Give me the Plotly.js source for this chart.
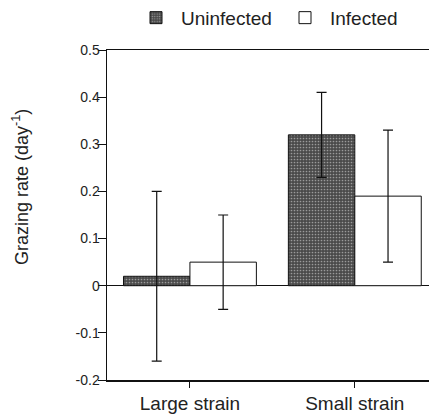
<!DOCTYPE html>
<html>
<head>
<meta charset="utf-8">
<script src="https://cdn.plot.ly/plotly-3.0.1.min.js"></script>
<style>html,body{margin:0;padding:0;background:#fff;}#chart{width:429px;height:414px;}</style>
</head>
<body>
<div id="chart"></div>
<script>
var categories = ["Large strain", "Small strain"];
var seriesNames = ["Uninfected", "Infected"];
var uninfected = [0.02, 0.32];
var uninfectedErr = [0.18, 0.09];
var infected = [0.05, 0.19];
var infectedErr = [0.10, 0.14];
var yTickVals = [-0.2, -0.1, 0, 0.1, 0.2, 0.3, 0.4, 0.5];
var yTickText = ["-0.2", "-0.1", "0", "0.1", "0.2", "0.3", "0.4", "0.5"];
var yTitle = "Grazing rate (day<sup>-1</sup>)";

var font = "'Liberation Sans', Arial, Helvetica, sans-serif";
var ink = "#222";

var traces = [
  {
    type: "bar", name: seriesNames[0], x: categories, y: uninfected,
    marker: {color: "#4a4a4a", line: {color: "#111", width: 1},
      pattern: {shape: ".", fgcolor: "#9a9a9a", bgcolor: "#4a4a4a", size: 3, solidity: 0.25}},
    error_y: {type: "data", array: uninfectedErr, visible: true, color: "#111", thickness: 1.2, width: 5}
  },
  {
    type: "bar", name: seriesNames[1], x: categories, y: infected,
    marker: {color: "#ffffff", line: {color: "#111", width: 1}},
    error_y: {type: "data", array: infectedErr, visible: true, color: "#111", thickness: 1.2, width: 5}
  }
];

var layout = {
  width: 429, height: 414,
  margin: {l: 107, r: 0, t: 50, b: 34},
  paper_bgcolor: "#fff", plot_bgcolor: "#fff",
  font: {family: font, color: ink, size: 14},
  barmode: "group", bargap: 0.194, bargroupgap: 0,
  showlegend: true,
  legend: {orientation: "h", x: 0.142, xanchor: "left", yref: "container", y: 0.957, yanchor: "middle",
    font: {family: font, size: 19, color: ink}, itemwidth: 40, traceorder: "normal",
    entrywidth: 94, entrywidthmode: "pixels"},
  xaxis: {
    range: [-0.503, 1.45], showline: true, linecolor: "#111", linewidth: 1.5, mirror: true,
    ticks: "outside", ticklen: 6, tickcolor: "#111", tickwidth: 1,
    tickfont: {family: font, size: 19, color: ink}, showgrid: false, zeroline: false, fixedrange: true
  },
  yaxis: {
    range: [-0.2, 0.5], tickvals: yTickVals, ticktext: yTickText,
    showline: true, linecolor: "#111", linewidth: 1.5,
    ticks: "outside", ticklen: 8, tickcolor: "#111", tickwidth: 1, ticklabelstandoff: -5,
    tickfont: {family: font, size: 14, color: ink},
    showgrid: false, zeroline: true, zerolinecolor: "#111", zerolinewidth: 1.2,
    fixedrange: true
  },
  annotations: [{
    text: yTitle, textangle: -90, xref: "paper", yref: "paper",
    x: -0.267, y: 0.585, xanchor: "center", yanchor: "middle", showarrow: false,
    font: {family: font, size: 18, color: ink}
  }]
};

Plotly.newPlot("chart", traces, layout, {displayModeBar: false, staticPlot: true});
</script>
</body>
</html>
